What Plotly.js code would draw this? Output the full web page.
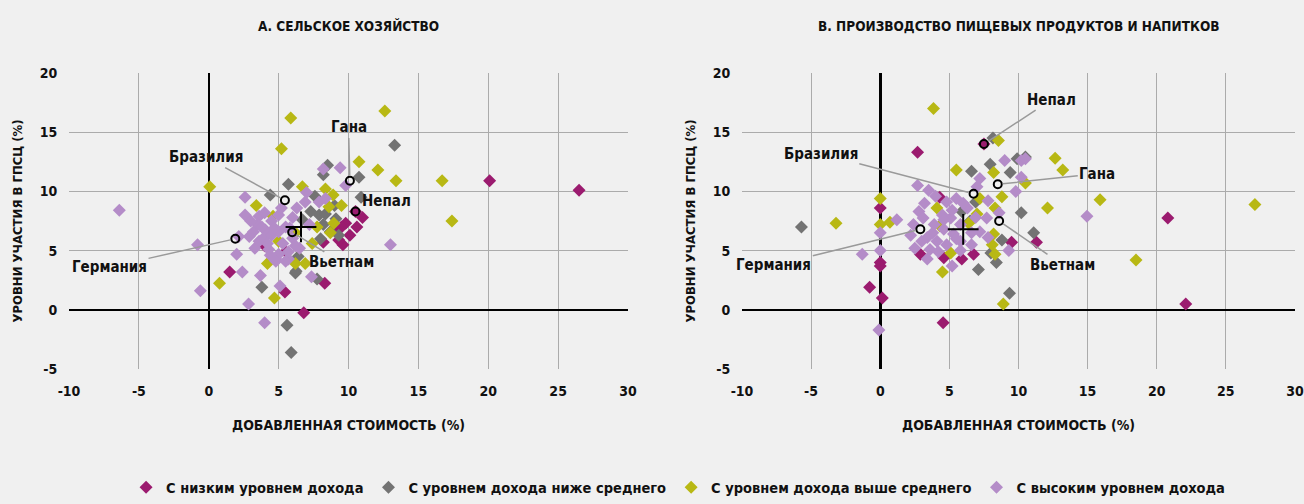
<!DOCTYPE html>
<html>
<head>
<meta charset="utf-8">
<script src="https://cdn.plot.ly/plotly-3.0.1.min.js"></script>
<style>
html,body{margin:0;padding:0;background:#f0f0f0;}
#chart{width:1304px;height:504px;}
</style>
</head>
<body>
<div id="chart"></div>
<script>
// ---- Tick values ----
const xTicks = [-10, -5, 0, 5, 10, 15, 20, 25, 30];
const yTicks = [-5, 0, 5, 10, 15, 20];

// ---- Group names ----
const groupNames = ["С низким уровнем дохода", "С уровнем дохода ниже среднего", "С уровнем дохода выше среднего", "С высоким уровнем дохода"];
const groupColors = ["#9b1b6f", "#737373", "#b8b814", "#b48cc8"];

// ---- Panel A: agriculture (value added %, GVC participation %) ----
const agrLow = [[20.1,10.9],[26.5,10.1],[11.0,7.8],[10.5,8.3],[9.8,7.3],[10.1,6.3],[9.6,5.5],[8.2,5.7],[9.1,6.75],[9.3,5.9],[1.5,3.2],[5.45,1.5],[8.3,2.25],[6.8,-0.25],[4.0,5.4],[5.5,4.9],[9.5,7.0],[10.6,7.0]];
const agrLowerMid = [[13.3,13.9],[10.75,11.2],[10.9,9.5],[8.5,12.2],[8.2,11.4],[4.4,9.7],[5.7,10.6],[7.9,8.0],[8.35,8.1],[8.2,7.2],[9.1,7.7],[9.3,6.3],[6.2,3.1],[7.75,2.6],[3.8,1.9],[6.4,4.5],[5.6,-1.3],[5.9,-3.6],[6.25,3.25],[8.7,6.6],[7.3,8.3],[6.7,7.6],[8.0,6.0],[9.0,8.8],[7.6,9.6]];
const agrUpperMid = [[5.87,16.2],[12.6,16.8],[5.2,13.6],[0.07,10.4],[10.75,12.5],[12.1,11.8],[13.4,10.9],[16.7,10.9],[17.4,7.5],[3.4,8.8],[0.77,2.25],[4.2,3.9],[4.7,1.0],[6.2,3.9],[6.9,3.9],[6.7,10.4],[8.35,10.2],[8.9,9.7],[9.5,8.8],[8.6,8.7],[4.6,7.9],[7.75,7.0],[8.95,7.3],[8.7,6.5],[7.4,5.6],[5.0,5.8],[6.2,6.5]];
const agrHigh = [[-6.4,8.4],[-0.8,5.5],[-0.6,1.6],[2.6,9.5],[2.6,8.0],[3.6,7.9],[2.0,4.7],[2.4,3.2],[3.7,2.9],[4.8,4.3],[5.7,4.3],[2.85,0.5],[5.1,2.0],[7.35,2.8],[4.0,-1.1],[13.0,5.5],[8.2,11.9],[9.4,12.0],[9.8,10.5],[7.0,9.9],[6.9,9.1],[7.9,9.1],[5.0,8.0],[5.5,7.0],[4.05,6.75],[3.2,6.6],[2.9,6.2],[3.9,6.05],[4.5,6.3],[5.0,6.6],[6.0,6.05],[6.2,5.4],[3.3,5.2],[4.3,5.1],[5.0,4.7],[5.7,4.9],[4.8,4.1],[5.5,4.1],[8.35,9.4],[2.15,6.2],[3.5,7.2],[4.5,7.5],[6.0,7.8],[3.8,7.0],[4.2,5.6],[5.3,5.6],[4.7,6.9],[3.6,5.8],[5.8,6.9],[4.4,4.6],[6.5,5.2],[3.0,7.5],[5.2,8.6],[6.3,8.6],[4.0,8.2],[7.2,7.2]];
const agrCountries = ["Бразилия", "Германия", "Гана", "Непал", "Вьетнам"];
const agrCountryPts = [[5.45,9.25],[1.9,6.0],[10.1,10.9],[10.5,8.3],[5.97,6.55]];
const agrLabelPos = [[-0.2,12.9],[-7.1,3.6],[10.0,15.4],[12.7,9.2],[9.5,4.0]];
const agrMean = [6.6, 7.0];

// ---- Panel B: food & beverages ----
const foodLow = [[7.5,14.0],[2.7,13.3],[11.3,5.7],[9.5,5.7],[0,8.6],[0,4.0],[0,3.7],[-0.77,1.9],[0.15,1.0],[4.55,-1.1],[4.3,9.5],[2.9,4.7],[4.6,4.4],[5.9,4.3],[6.75,4.7],[20.8,7.75],[22.1,0.5]];
const foodLowerMid = [[-5.7,7.0],[6.6,11.7],[7.95,12.3],[9.4,11.6],[9.9,12.75],[10.5,12.9],[10.2,8.2],[11.1,6.5],[8.8,5.9],[8.0,4.8],[8.4,4.0],[7.1,3.4],[9.35,1.4],[6.9,9.1],[5.9,8.3],[8.15,14.5],[6.5,7.5]];
const foodUpperMid = [[3.85,17.0],[8.55,14.3],[12.65,12.8],[13.2,11.8],[5.5,11.8],[8.2,11.6],[10.5,10.7],[8.8,9.55],[12.1,8.6],[15.9,9.3],[27.1,8.9],[18.5,4.2],[0,9.4],[0,7.2],[0.7,7.4],[-3.2,7.3],[4.1,8.6],[4.3,7.1],[7.0,8.1],[8.3,8.6],[8.2,6.4],[8.1,5.5],[8.3,4.7],[5.1,4.8],[4.5,3.2],[8.9,0.5],[6.4,7.3],[7.2,9.4]];
const foodHigh = [[9.0,12.6],[10.2,12.6],[10.5,12.75],[2.7,10.5],[3.5,10.1],[9.8,10.0],[10.2,11.2],[7.2,11.1],[7.0,10.4],[5.5,9.4],[4.8,9.1],[2.8,8.3],[1.2,7.6],[0,6.5],[0,5.0],[-1.3,4.7],[3.4,4.3],[5.2,3.7],[9.3,5.0],[-0.1,-1.7],[14.95,7.9],[3.9,7.2],[4.6,6.8],[5.1,7.75],[5.3,6.4],[3.4,6.1],[4.1,5.8],[4.8,5.5],[5.8,5.8],[5.8,5.0],[7.2,6.6],[7.7,7.75],[7.8,6.1],[6.3,8.6],[3.0,5.8],[3.6,5.1],[6.6,5.5],[3.1,7.75],[5.8,7.2],[6.0,9.0],[4.5,8.0],[2.2,6.3],[2.5,5.2],[3.2,9.0],[4.0,9.6],[4.6,7.6],[5.5,6.0],[6.6,6.5],[6.9,7.8],[4.2,4.9],[3.8,6.5],[5.2,8.4],[7.8,9.2],[8.6,8.2],[2.4,7.2]];
const foodCountries = ["Бразилия", "Германия", "Гана", "Непал", "Вьетнам"];
const foodCountryPts = [[6.75,9.8],[2.9,6.8],[8.5,10.6],[7.5,14.0],[8.6,7.5]];
const foodLabelPos = [[-4.3,13.2],[-7.7,3.75],[15.7,11.5],[12.4,17.75],[13.2,3.8]];
const foodMean = [6.0, 6.8];

// ---- Titles ----
const panelTitles = ["А. СЕЛЬСКОЕ ХОЗЯЙСТВО", "В. ПРОИЗВОДСТВО ПИЩЕВЫХ ПРОДУКТОВ И НАПИТКОВ"];
const xTitle = "ДОБАВЛЕННАЯ СТОИМОСТЬ (%)";
const yTitle = "УРОВНИ УЧАСТИЯ В ГПСЦ (%)";

const FONT = "'Liberation Sans Narrow', 'DejaVu Sans Condensed', 'DejaVu Sans', sans-serif";

const traces = [];
const panels = [
  {groups:[agrLow, agrLowerMid, agrUpperMid, agrHigh], pts:agrCountryPts, mean:agrMean, xa:'x', ya:'y'},
  {groups:[foodLow, foodLowerMid, foodUpperMid, foodHigh], pts:foodCountryPts, mean:foodMean, xa:'x2', ya:'y2'}
];
panels.forEach((p, pi) => {
  p.groups.forEach((g, gi) => {
    traces.push({
      type:'scatter', mode:'markers', xaxis:p.xa, yaxis:p.ya,
      x:g.map(d=>d[0]), y:g.map(d=>d[1]),
      name:groupNames[gi], legendgroup:'g'+gi, showlegend:pi===0,
      marker:{symbol:'diamond', size:10, color:groupColors[gi], line:{width:0}},
      hoverinfo:'x+y'
    });
  });
  traces.push({
    type:'scatter', mode:'markers', xaxis:p.xa, yaxis:p.ya,
    x:p.pts.map(d=>d[0]), y:p.pts.map(d=>d[1]), showlegend:false,
    marker:{symbol:'circle-open', size:8, color:'#000', line:{width:2, color:'#000'}}
  });
  traces.push({
    type:'scatter', mode:'markers', xaxis:p.xa, yaxis:p.ya,
    x:[p.mean[0]], y:[p.mean[1]], showlegend:false,
    marker:{symbol:'cross-thin-open', size:22, color:'#000', line:{width:2, color:'#000'}}
  });
});

function xAxis(domain, anchor){
  return {domain:domain, anchor:anchor, range:[-10,30], tickvals:xTicks, ticktext:xTicks.map(String),
    showgrid:true, gridcolor:'#ababab', gridwidth:1, zeroline:true, zerolinecolor:'#000', zerolinewidth:2.5,
    showline:false, ticks:'outside', ticklen:9, tickcolor:'rgba(0,0,0,0)',
    tickfont:{family:FONT, size:14, color:'#111', weight:'bold'},
    title:{text:xTitle, font:{family:FONT, size:14, color:'#111', weight:'bold'}, standoff:22}};
}
function yAxis(domain, anchor){
  return {domain:domain, anchor:anchor, range:[-5,20], tickvals:yTicks, ticktext:yTicks.map(String),
    showgrid:true, gridcolor:'#ababab', gridwidth:1, zeroline:true, zerolinecolor:'#000', zerolinewidth:2.5,
    showline:false, ticks:'outside', ticklen:8, tickcolor:'rgba(0,0,0,0)',
    tickfont:{family:FONT, size:14, color:'#111', weight:'bold'},
    title:{text:yTitle, font:{family:FONT, size:13, color:'#111', weight:'bold'}, standoff:14}};
}

const annotations = [];
function addLabels(names, pts, pos, xr, yr){
  names.forEach((n,i)=>{
    annotations.push({xref:xr, yref:yr, x:pts[i][0], y:pts[i][1], axref:xr, ayref:yr, ax:pos[i][0], ay:pos[i][1],
      text:n, showarrow:true, arrowhead:0, arrowwidth:1.5, arrowcolor:'#9a9a9a', standoff:5,
      font:{family:FONT, size:15, color:'#111', weight:'bold'}});
  });
}
addLabels(agrCountries, agrCountryPts, agrLabelPos, 'x', 'y');
addLabels(foodCountries, foodCountryPts, foodLabelPos, 'x2', 'y2');
annotations.push({xref:'x domain', yref:'paper', x:0.5, y:1.16, text:panelTitles[0], showarrow:false,
  font:{family:FONT, size:13.5, color:'#111', weight:'bold'}, yanchor:'middle'});
annotations.push({xref:'x2 domain', yref:'paper', x:0.5, y:1.16, text:panelTitles[1], showarrow:false,
  font:{family:FONT, size:13.5, color:'#111', weight:'bold'}, yanchor:'middle'});

const layout = {
  width:1304, height:504,
  paper_bgcolor:'#f0f0f0', plot_bgcolor:'#f0f0f0',
  margin:{l:0, r:0, t:73, b:131},
  xaxis:xAxis([69/1304, 628/1304], 'y'),
  yaxis:yAxis([0,1], 'x'),
  xaxis2:xAxis([742/1304, 1295/1304], 'y2'),
  yaxis2:yAxis([0,1], 'x2'),
  showlegend:true,
  legend:{orientation:'h', x:0.52, xanchor:'center', y:-0.4, yanchor:'middle',
    font:{family:FONT, size:14.5, color:'#111', weight:'bold'}, itemwidth:30, bgcolor:'rgba(0,0,0,0)'},
  annotations:annotations,
  font:{family:FONT}
};

Plotly.newPlot('chart', traces, layout, {displayModeBar:false, staticPlot:true});
</script>
</body>
</html>
